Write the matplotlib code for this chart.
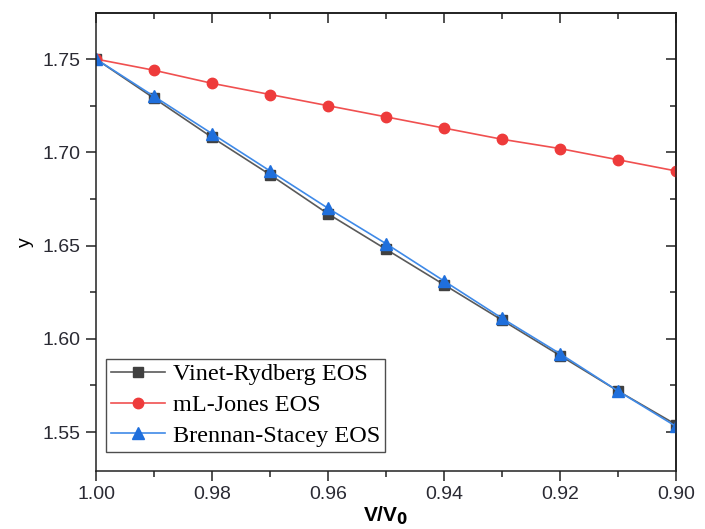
import matplotlib.pyplot as plt
from matplotlib.ticker import MultipleLocator

# data
v_ratio = [1.00, 0.99, 0.98, 0.97, 0.96, 0.95, 0.94, 0.93, 0.92, 0.91, 0.90]
vinet = [1.750, 1.729, 1.708, 1.688, 1.667, 1.648, 1.629, 1.610, 1.591, 1.572, 1.554]
mljones = [1.750, 1.744, 1.737, 1.731, 1.725, 1.719, 1.713, 1.707, 1.702, 1.696, 1.690]
brennan = [1.750, 1.730, 1.710, 1.690, 1.670, 1.651, 1.631, 1.611, 1.592, 1.572, 1.553]

plt.rcParams['font.family'] = 'Liberation Sans'

fig = plt.figure(figsize=(7.05, 5.29), dpi=100)
ax = fig.add_axes([0.1362, 0.1096, 0.8228, 0.8658])

ax.plot(v_ratio, vinet, color='#5a5a5a', lw=1.2, marker='s', ms=6.5,
        mfc='#404040', mec='#404040', label='Vinet-Rydberg EOS')
ax.plot(v_ratio, mljones, color='#f05050', lw=1.2, marker='o', ms=7.5,
        mfc='#ee3b3b', mec='#ee3b3b', label='mL-Jones EOS')
ax.plot(v_ratio, brennan, color='#3f8ae8', lw=1.2, marker='^', ms=8,
        mfc='#1f6fdc', mec='#1f6fdc', label='Brennan-Stacey EOS')

ax.set_xlim(1.00, 0.90)
ax.set_ylim(1.5291, 1.7747)
ax.xaxis.set_major_locator(MultipleLocator(0.02))
ax.xaxis.set_minor_locator(MultipleLocator(0.01))
ax.yaxis.set_major_locator(MultipleLocator(0.05))
ax.yaxis.set_minor_locator(MultipleLocator(0.025))
ax.xaxis.set_major_formatter(plt.FormatStrFormatter('%.2f'))
ax.yaxis.set_major_formatter(plt.FormatStrFormatter('%.2f'))

for s in ax.spines.values():
    s.set_linewidth(1.1)
    s.set_color('#222222')

ax.tick_params(which='both', direction='out', top=False, right=False,
               width=1.1, colors='#222222', labelcolor='#2a2a33', labelsize=14)
ax.tick_params(which='major', length=7, pad=4)
ax.tick_params(which='minor', length=4)

# inward ticks on top and right
sec_x = ax.secondary_xaxis('top')
sec_x.xaxis.set_major_locator(MultipleLocator(0.02))
sec_x.xaxis.set_minor_locator(MultipleLocator(0.01))
sec_x.tick_params(which='both', direction='in', labeltop=False, width=1.1, colors='#222222')
sec_x.tick_params(which='major', length=7)
sec_x.tick_params(which='minor', length=4)
sec_y = ax.secondary_yaxis('right')
sec_y.yaxis.set_major_locator(MultipleLocator(0.05))
sec_y.yaxis.set_minor_locator(MultipleLocator(0.025))
sec_y.tick_params(which='both', direction='in', labelright=False, width=1.1, colors='#222222')
sec_y.tick_params(which='major', length=7)
sec_y.tick_params(which='minor', length=4)
for s in list(sec_x.spines.values()) + list(sec_y.spines.values()):
    s.set_linewidth(1.1)

ax.set_xlabel('V/V$_\\mathbf{0}$', fontsize=15, fontweight='bold', labelpad=1)
ax.set_ylabel('y', fontsize=14, labelpad=6)

leg = ax.legend(loc='lower left', bbox_to_anchor=(0.018, 0.042), frameon=True,
                fancybox=False, edgecolor='#222222', handlelength=2.2,
                prop={'family': 'Liberation Serif', 'size': 17.5},
                borderpad=0.2, labelspacing=0.36, handletextpad=0.35,
                borderaxespad=0)
leg.get_frame().set_linewidth(1.0)

fig.savefig('out.png', dpi=100)
